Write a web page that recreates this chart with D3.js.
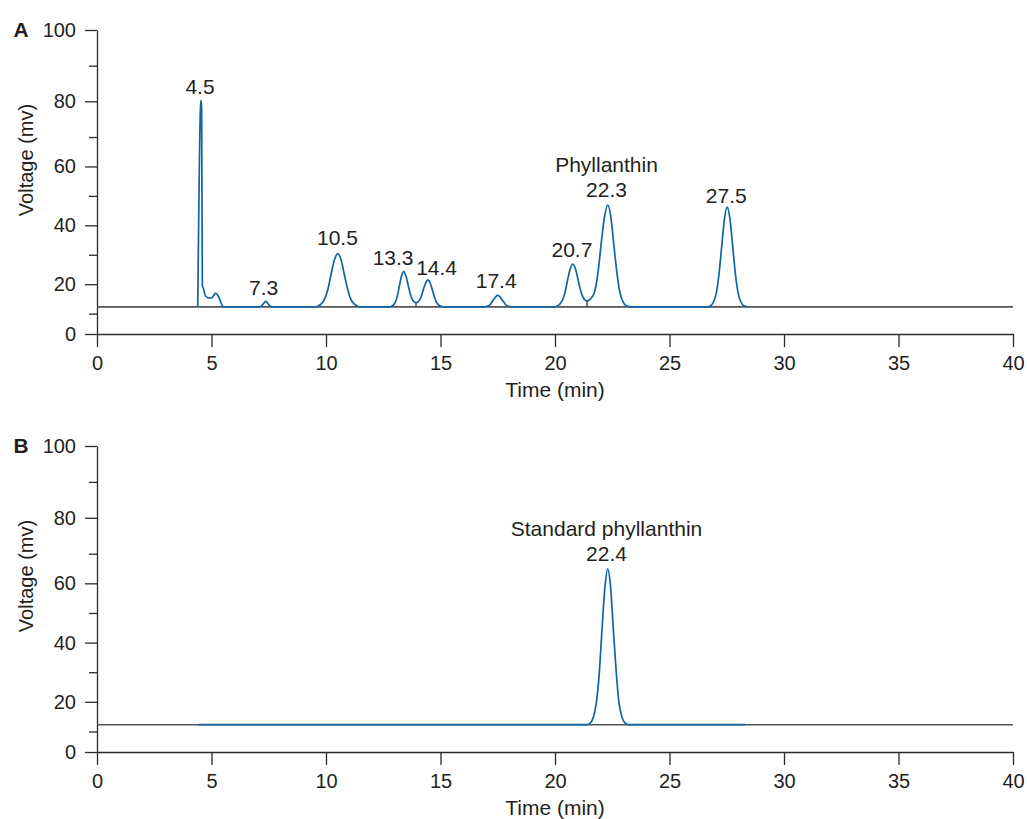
<!DOCTYPE html>
<html lang="en">
<head>
    <meta charset="UTF-8">
    <title>HPLC chromatogram - phyllanthin</title>
    <style>
        html, body {
            margin: 0;
            padding: 0;
            background-color: #fff;
            font-family: 'Liberation Sans', Arial, sans-serif;
        }
        #chart text {
            fill: #231f20;
        }
    </style>
</head>
<body>
    <div id="chart"></div>
    <script src="https://d3js.org/d3.v7.min.js"></script>
    <script>
        // DATA
        const xTicks = [0, 5, 10, 15, 20, 25, 30, 35, 40];
        const yMajor = [0, 20, 40, 60, 80, 100];
        const yMinor = [10, 30, 50, 70, 90];
        const baselineVolt = 12.3;

        // [time (min), voltage (mv)]
        const traceA = [
            [4.40, 12.3], [4.52, 78.5], [4.545, 80.3], [4.57, 78.0], [4.60, 19.5], [4.64, 18.7],
            [4.75, 15.9], [4.90, 15.3], [5.03, 15.5], [5.18, 17.0], [5.30, 15.9], [5.52, 12.3],
            [7.10, 12.3], [7.19, 12.6], [7.28, 13.5], [7.33, 14.0], [7.37, 14.2], [7.41, 14.0],
            [7.46, 13.5], [7.55, 12.6], [7.64, 12.3],
            [9.55, 12.3], [9.64, 12.5], [9.93, 14.8], [10.08, 18.2], [10.22, 23.3], [10.37, 28.3],
            [10.51, 30.4], [10.66, 28.3], [10.80, 23.3], [10.95, 18.2], [11.09, 14.8], [11.38, 12.5],
            [11.47, 12.3],
            [12.80, 12.3], [12.85, 12.4], [13.03, 13.9], [13.12, 16.2], [13.21, 19.6], [13.30, 22.9],
            [13.39, 24.3], [13.49, 22.9], [13.59, 19.6], [13.69, 16.4], [13.80, 14.4], [13.93, 13.7],
            [14.03, 14.1], [14.14, 15.4], [14.24, 17.9], [14.35, 20.4], [14.45, 21.5], [14.55, 20.4],
            [14.65, 17.9], [14.75, 15.3], [14.85, 13.5], [15.05, 12.4], [15.15, 12.3],
            [16.90, 12.3], [17.12, 12.8], [17.22, 13.6], [17.31, 14.7], [17.41, 15.7], [17.50, 16.2],
            [17.60, 15.7], [17.69, 14.7], [17.79, 13.6], [17.88, 12.8], [18.10, 12.3],
            [19.95, 12.3], [20.08, 12.5], [20.31, 14.3], [20.43, 17.0], [20.54, 21.1], [20.66, 25.1],
            [20.77, 26.8], [20.90, 25.1], [21.02, 21.1], [21.15, 17.0], [21.27, 15.0], [21.40, 14.3],
            [21.55, 15.0], [21.72, 17.2], [21.87, 23.5], [22.01, 33.3], [22.16, 42.8], [22.30, 46.9],
            [22.44, 42.8], [22.57, 33.3], [22.71, 23.5], [22.84, 17.0], [23.11, 12.7], [23.35, 12.3],
            [26.65, 12.3], [26.80, 12.7], [27.04, 16.9], [27.16, 23.3], [27.28, 32.9], [27.40, 42.2],
            [27.52, 46.2], [27.64, 42.2], [27.76, 32.9], [27.88, 23.3], [28.00, 16.9], [28.24, 12.7],
            [28.40, 12.3]
        ];

        // [time (min), voltage (mv)]
        const traceB = [
            [4.42, 12.3], [21.40, 12.3], [21.55, 12.9], [21.80, 19.4], [21.93, 29.4], [22.05, 44.1],
            [22.18, 58.6], [22.30, 64.8], [22.43, 58.6], [22.55, 44.1], [22.68, 29.4], [22.80, 19.4],
            [23.05, 12.9], [23.20, 12.3], [28.30, 12.3]
        ];

        // valley drop lines [time, valley voltage]
        const dropsA = [[13.93, 13.7], [21.40, 14.3]];
        const dropsB = [];

        // peak annotations (anchored in data units)
        const labelTextA = ["4.5", "7.3", "10.5", "13.3", "14.4", "17.4", "20.7", "22.3", "Phyllanthin", "27.5"];
        const labelTimeA = [4.50, 7.28, 10.50, 12.93, 14.83, 17.43, 20.74, 22.25, 22.25, 27.48];
        const labelVoltA = [82.0, 16.2, 33.2, 26.4, 23.0, 18.7, 29.4, 49.6, 58.2, 47.5];

        const labelTextB = ["Standard phyllanthin", "22.4"];
        const labelTimeB = [22.25, 22.25];
        const labelVoltB = [74.8, 67.4];

        const panelLetters = ["A", "B"];

        // LAYOUT
        const width = 1027, height = 819;
        const left = 97, plotW = 916;
        const blue = "#0f64a6", ink = "#2b2b2b";

        const svg = d3.select("#chart")
            .append("svg")
            .attr("width", width)
            .attr("height", height)
            .style("font-family", "'Liberation Sans', Arial, sans-serif");

        const x = d3.scaleLinear().domain([0, 40]).range([0, plotW]);

        function drawPanel(top, h, letter, trace, drops, texts, times, volts) {
            // the printed y axis is not evenly spaced: 0-10 is short, 70-100 is stretched
            const y = d3.scaleLinear()
                .domain([0, 10, 70, 100])
                .range([h, h * 0.933, h * 0.352, 0]);

            const g = svg.append("g").attr("transform", `translate(${left},${top})`);

            // Y AXIS
            const yAxis = g.append("g")
                .call(d3.axisLeft(y).tickValues(yMajor).tickSize(12).tickSizeOuter(0).tickPadding(9));
            const yMinorAxis = g.append("g")
                .call(d3.axisLeft(y).tickValues(yMinor).tickSize(8).tickFormat(""));
            yMinorAxis.select(".domain").remove();

            // X AXIS
            const xAxis = g.append("g")
                .attr("transform", `translate(0,${h})`)
                .call(d3.axisBottom(x).tickValues(xTicks).tickSize(13).tickSizeOuter(0).tickPadding(9));

            [yAxis, yMinorAxis, xAxis].forEach(a => {
                a.selectAll(".domain, .tick line").attr("stroke", ink).attr("stroke-width", 1.3);
                a.selectAll("text")
                    .attr("font-size", 20)
                    .attr("font-family", "'Liberation Sans', Arial, sans-serif");
            });

            // AXIS TITLES
            g.append("text")
                .attr("x", plotW / 2)
                .attr("y", h + 63)
                .attr("text-anchor", "middle")
                .attr("font-size", 21)
                .text("Time (min)");

            g.append("text")
                .attr("transform", `translate(${33 - left},130) rotate(-90)`)
                .attr("text-anchor", "middle")
                .attr("font-size", 20)
                .text("Voltage (mv)");

            g.append("text")
                .attr("x", 21 - left)
                .attr("y", 7)
                .attr("text-anchor", "middle")
                .attr("font-size", 21)
                .attr("font-weight", "bold")
                .text(letter);

            // BASELINE
            g.append("path")
                .datum([0, 40])
                .attr("d", d3.line().x(d => x(d)).y(() => y(baselineVolt)))
                .attr("fill", "none")
                .attr("stroke", "#555")
                .attr("stroke-width", 1.6);

            // TRACE
            g.append("path")
                .datum(trace)
                .attr("d", d3.line().x(d => x(d[0])).y(d => y(d[1])).curve(d3.curveMonotoneX))
                .attr("fill", "none")
                .attr("stroke", blue)
                .attr("stroke-width", 1.7)
                .attr("stroke-linejoin", "round");

            // VALLEY DROP LINES
            g.selectAll(".drop")
                .data(drops)
                .enter()
                .append("line")
                .attr("class", "drop")
                .attr("x1", d => x(d[0]))
                .attr("x2", d => x(d[0]))
                .attr("y1", d => y(d[1]))
                .attr("y2", y(baselineVolt))
                .attr("stroke", ink)
                .attr("stroke-width", 1.2);

            // PEAK LABELS
            g.selectAll(".peak-label")
                .data(texts)
                .enter()
                .append("text")
                .attr("class", "peak-label")
                .attr("x", (d, i) => x(times[i]))
                .attr("y", (d, i) => y(volts[i]))
                .attr("text-anchor", "middle")
                .attr("font-size", 21)
                .text(d => d);
        }

        drawPanel(30, 304, panelLetters[0], traceA, dropsA, labelTextA, labelTimeA, labelVoltA);
        drawPanel(446, 306, panelLetters[1], traceB, dropsB, labelTextB, labelTimeB, labelVoltB);
    </script>
</body>
</html>
